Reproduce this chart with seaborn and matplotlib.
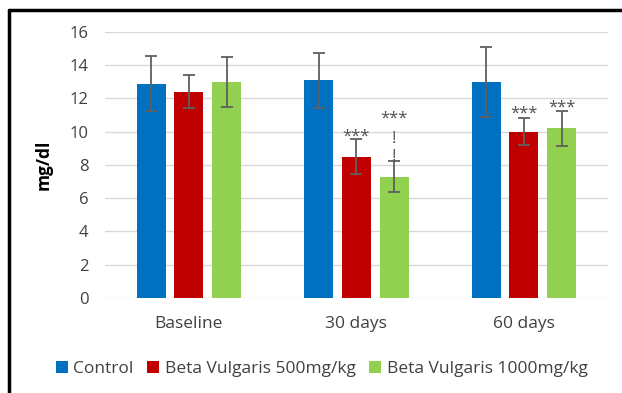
import matplotlib
matplotlib.use("Agg")
import matplotlib.pyplot as plt
from matplotlib.lines import Line2D
import seaborn as sns
import pandas as pd

# Serum values (mg/dl), mean and error per group and time point
periods = ["Baseline", "30 days", "60 days"]
groups = ["Control", "Beta Vulgaris 500mg/kg", "Beta Vulgaris 1000mg/kg"]
control_mean = [12.9, 13.1, 13.0]
control_err = [1.65, 1.65, 2.1]
bv500_mean = [12.4, 8.5, 10.0]
bv500_err = [1.0, 1.05, 0.8]
bv1000_mean = [13.0, 7.3, 10.2]
bv1000_err = [1.5, 0.95, 1.05]
colors = ["#0070C0", "#C00000", "#92D050"]

# Significance marks: (group index, period index, label, y position)
sig_marks = [
    (1, 1, "***", 9.7),
    (2, 1, "***", 10.8),
    (2, 1, "!", 9.55),
    (2, 1, "!", 8.5),
    (1, 2, "***", 11.1),
    (2, 2, "***", 11.45),
]

means = [control_mean, bv500_mean, bv1000_mean]
errs = [control_err, bv500_err, bv1000_err]

df = pd.DataFrame({
    "period": [p for _ in groups for p in periods],
    "group": [g for g in groups for _ in periods],
    "value": [v for m in means for v in m],
})

sns.set_theme(style="white")
plt.rcParams["font.family"] = ["Open Sans", "DejaVu Sans"]

fig = plt.figure(figsize=(6.22, 3.93), dpi=100)
ax = fig.add_axes([0.169, 0.2417, 0.808, 0.677])

sns.barplot(data=df, x="period", y="value", hue="group", order=periods,
            hue_order=groups, palette=colors, errorbar=None, width=0.675,
            gap=0.23, saturation=1, ax=ax, linewidth=0, zorder=3)

bar_containers = list(ax.containers)
bar_x = {}
for gi, cont in enumerate(bar_containers):
    xs = [b.get_x() + b.get_width() / 2 for b in cont]
    ys = [b.get_height() for b in cont]
    for pi, x in enumerate(xs):
        bar_x[(gi, pi)] = x
    ax.errorbar(xs, ys, yerr=errs[gi], fmt="none", ecolor="#5f5f5f",
                elinewidth=1.3, capsize=4, capthick=1.3, zorder=4)

for gi, pi, label, y in sig_marks:
    ax.text(bar_x[(gi, pi)], y, label, ha="center", va="center",
            fontsize=12, color="#505050", zorder=5)

ax.set_ylim(0, 16)
ax.set_xlim(-0.5, 2.5)
ax.set_yticks(range(0, 17, 2))
ax.yaxis.grid(True, color="#D9D9D9", linewidth=1.0, zorder=0)
ax.set_axisbelow(True)
for s in ax.spines.values():
    s.set_visible(False)
ax.tick_params(axis="both", length=0, labelsize=12.5, colors="#404040")
ax.tick_params(axis="y", pad=12, labelsize=12)
ax.tick_params(axis="x", pad=13)
ax.set_xlabel("")
ax.set_ylabel("mg/dl", fontsize=12.5, fontweight="bold", color="black", labelpad=12)

handles, labels = ax.get_legend_handles_labels()
ax.legend(handles, labels, loc="center", bbox_to_anchor=(0.517, 0.06),
          bbox_transform=fig.transFigure, ncol=3, frameon=False,
          fontsize=12.5, handlelength=0.7, handleheight=0.7,
          handletextpad=0.3, columnspacing=0.8, labelcolor="#404040")

# Outer frame lines along the left and top edges
fig.add_artist(Line2D([0.014, 0.014], [0.0, 0.975], transform=fig.transFigure,
                      color="black", linewidth=2.5))
fig.add_artist(Line2D([0.014, 1.0], [0.975, 0.975], transform=fig.transFigure,
                      color="black", linewidth=2.5))

fig.savefig("out.png", dpi=100, facecolor="white")
